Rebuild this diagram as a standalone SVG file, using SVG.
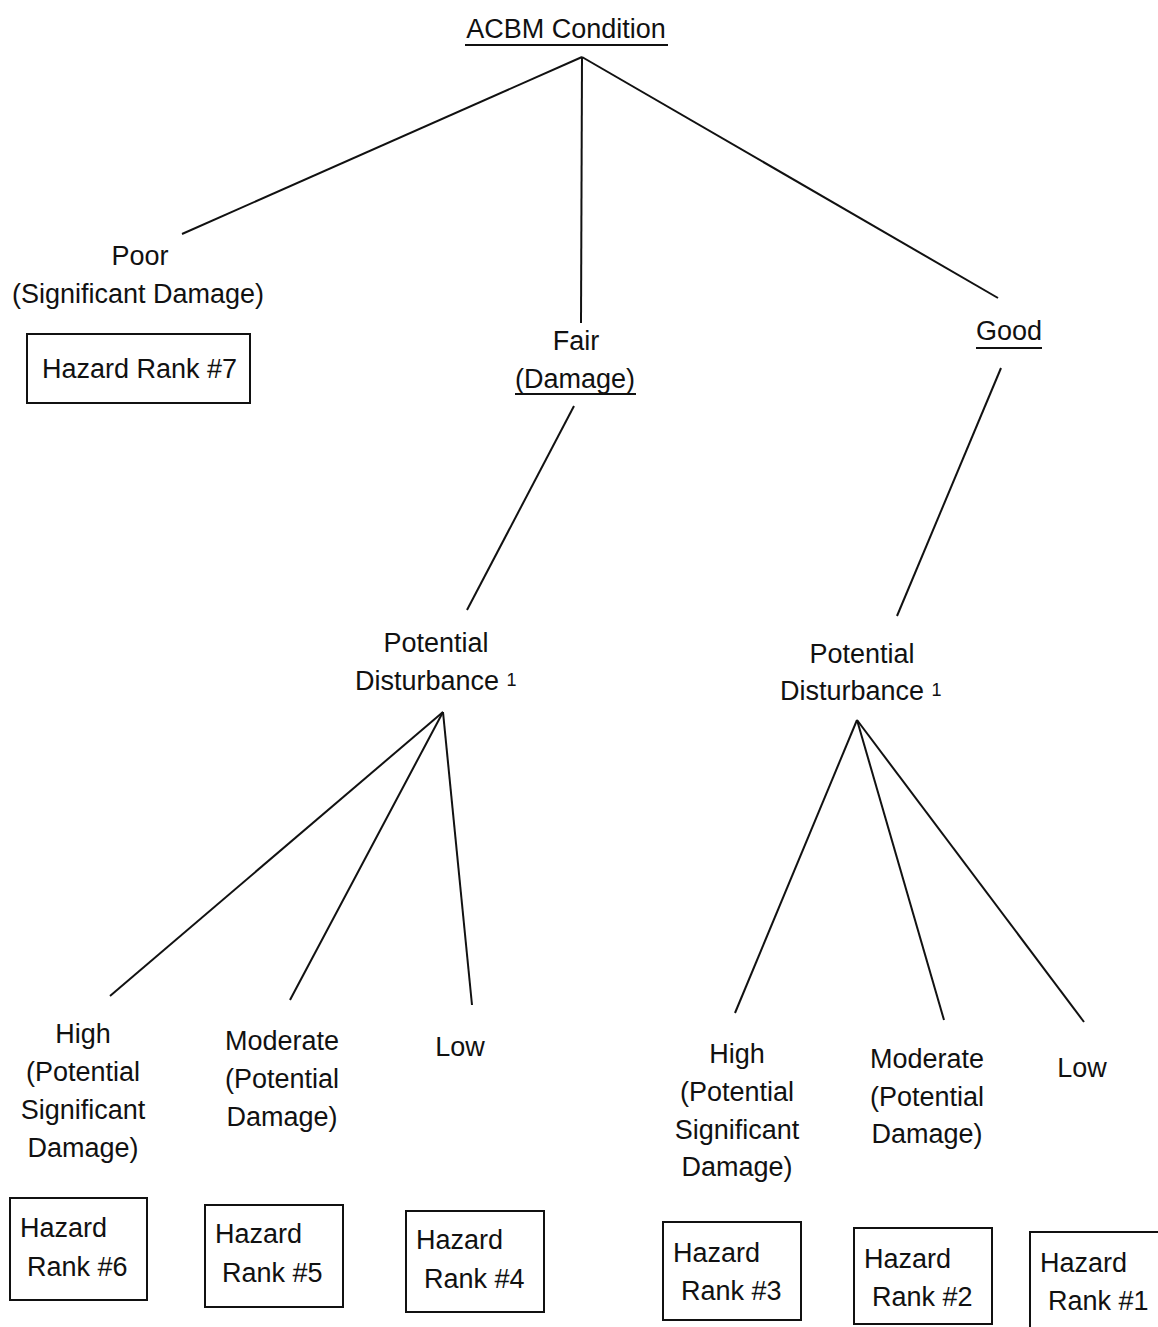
<svg xmlns="http://www.w3.org/2000/svg" width="1158" height="1327" viewBox="0 0 1158 1327">
<style>
text{font-family:"Liberation Sans",Arial,sans-serif;font-size:27px;fill:#111}
.c{text-anchor:middle}
.sup{font-size:18px}
.box{fill:none;stroke:#111;stroke-width:2}
.ul{stroke:#111;stroke-width:2}
#connectors line{stroke:#111;stroke-width:2}
</style>
<rect width="1158" height="1327" fill="#fff"/>
<g id="connectors">
<line x1="582" y1="57" x2="182" y2="234"/>
<line x1="582" y1="57" x2="581" y2="323"/>
<line x1="582" y1="57" x2="998" y2="298"/>
<line x1="574" y1="406" x2="467" y2="610"/>
<line x1="1001" y1="368" x2="897" y2="616"/>
<line x1="443" y1="712" x2="110" y2="996"/>
<line x1="443" y1="712" x2="290" y2="1000"/>
<line x1="443" y1="712" x2="472" y2="1005"/>
<line x1="857" y1="720" x2="735" y2="1013"/>
<line x1="857" y1="720" x2="944" y2="1020"/>
<line x1="857" y1="720" x2="1084" y2="1022"/>
</g>
<g id="root">
<text class="c" x="566" y="38">ACBM Condition</text>
<line class="ul" x1="465" y1="45" x2="668" y2="45"/>
</g>
<g id="poor">
<text class="c" x="140" y="265">Poor</text>
<text class="c" x="138" y="303">(Significant Damage)</text>
</g>
<g id="rank7">
<rect class="box" x="27" y="334" width="223" height="69"/>
<text x="42" y="378">Hazard Rank #7</text>
</g>
<g id="fair">
<text class="c" x="576" y="350">Fair</text>
<text class="c" x="575" y="388">(Damage)</text>
<line class="ul" x1="515" y1="394" x2="636" y2="394"/>
</g>
<g id="good">
<text class="c" x="1009" y="340">Good</text>
<line class="ul" x1="976" y1="348" x2="1042" y2="348"/>
</g>
<g id="pd1">
<text class="c" x="436" y="652">Potential</text>
<text x="355" y="690">Disturbance <tspan class="sup" dy="-4">1</tspan></text>
</g>
<g id="pd2">
<text class="c" x="862" y="663">Potential</text>
<text x="780" y="700">Disturbance <tspan class="sup" dy="-4">1</tspan></text>
</g>
<g id="high1">
<text class="c" x="83" y="1043">High</text>
<text class="c" x="83" y="1081">(Potential</text>
<text class="c" x="83" y="1119">Significant</text>
<text class="c" x="83" y="1157">Damage)</text>
</g>
<g id="mod1">
<text class="c" x="282" y="1050">Moderate</text>
<text class="c" x="282" y="1088">(Potential</text>
<text class="c" x="282" y="1126">Damage)</text>
</g>
<g id="low1">
<text class="c" x="460" y="1056">Low</text>
</g>
<g id="rank6">
<rect class="box" x="10" y="1198" width="137" height="102"/>
<text x="20" y="1237">Hazard</text>
<text x="27" y="1276">Rank #6</text>
</g>
<g id="rank5">
<rect class="box" x="205" y="1205" width="138" height="102"/>
<text x="215" y="1243">Hazard</text>
<text x="222" y="1282">Rank #5</text>
</g>
<g id="rank4">
<rect class="box" x="406" y="1211" width="138" height="101"/>
<text x="416" y="1249">Hazard</text>
<text x="424" y="1288">Rank #4</text>
</g>
<g id="high2">
<text class="c" x="737" y="1063">High</text>
<text class="c" x="737" y="1101">(Potential</text>
<text class="c" x="737" y="1139">Significant</text>
<text class="c" x="737" y="1176">Damage)</text>
</g>
<g id="mod2">
<text class="c" x="927" y="1068">Moderate</text>
<text class="c" x="927" y="1106">(Potential</text>
<text class="c" x="927" y="1143">Damage)</text>
</g>
<g id="low2">
<text class="c" x="1082" y="1077">Low</text>
</g>
<g id="rank3">
<rect class="box" x="663" y="1222" width="138" height="98"/>
<text x="673" y="1262">Hazard</text>
<text x="681" y="1300">Rank #3</text>
</g>
<g id="rank2">
<rect class="box" x="854" y="1228" width="138" height="96"/>
<text x="864" y="1268">Hazard</text>
<text x="872" y="1306">Rank #2</text>
</g>
<g id="rank1">
<rect class="box" x="1030" y="1232" width="140" height="100"/>
<text x="1040" y="1272">Hazard</text>
<text x="1048" y="1310">Rank #1</text>
</g>
</svg>
